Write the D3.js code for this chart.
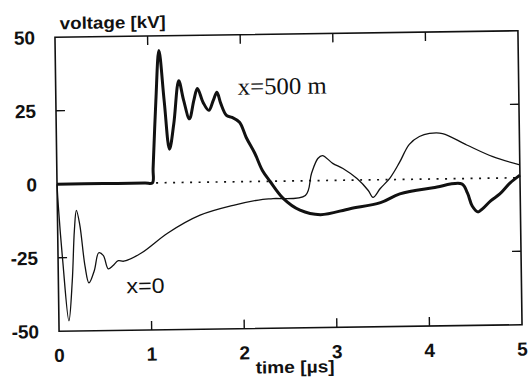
<!DOCTYPE html>
<html>
<head>
<meta charset="utf-8">
<script src="https://cdnjs.cloudflare.com/ajax/libs/d3/7.8.5/d3.min.js"></script>
<style>
  body { margin: 0; background: #fff; }
</style>
</head>
<body>
<div id="chart"></div>
<script>
    // time axis (us) and voltage (kV)
    var t500 = [0, 0.5, 0.95, 1.03, 1.04, 1.08, 1.12, 1.17, 1.22, 1.27, 1.33, 1.38, 1.44, 1.49, 1.53, 1.59, 1.65,
                1.70, 1.74, 1.78, 1.84, 1.90, 1.98, 2.05, 2.14, 2.22, 2.30, 2.44, 2.62, 2.84, 3.16,
                3.49, 3.70, 4.06, 4.37, 4.43, 4.48, 4.54, 4.59, 4.68, 4.78, 4.89, 5.0];
    var v500 = [0, 0, 0, 0, 5, 28, 45, 27.7, 11.4, 20, 34.6, 27.9, 21.6, 27.9, 31.9, 27.1, 24.4,
                27.8, 30.5, 26.7, 22.6, 21.9, 20.2, 15, 9.6, 3.7, 0, -5.9, -10, -11.6, -9.7,
                -7.8, -4.9, -3, -1.8, -4.9, -9.4, -11.4, -10.4, -7.7, -5.4, -1.8, 0.9];

    var t0 = [0, 0.01, 0.05, 0.108, 0.15, 0.18, 0.205, 0.24, 0.29, 0.33, 0.39, 0.44, 0.49, 0.54,
              0.59, 0.65, 0.71, 0.9, 1.19, 1.54, 1.9, 2.22, 2.33, 2.68, 2.75, 2.82, 2.87, 2.98,
              3.09, 3.24, 3.36, 3.41, 3.49, 3.60, 3.70, 3.81, 3.92, 4.03, 4.17, 4.43, 4.71, 5.0];
    var v0 = [0, -7, -26, -46.5, -33, -16, -9, -14, -28, -33.7, -29.5, -23.5, -24.5, -29,
              -28, -26.3, -26.5, -23.8, -17.1, -11.2, -8, -6.1, -5.9, -5, 2.5, 7.5, 8.5, 5.8,
              4, 0.5, -3.6, -6, -3, 0.7, 5.7, 11.9, 14.5, 15.5, 15.4, 11.4, 7.3, 4.4];

    var xTicks = [0, 1, 2, 3, 4, 5];
    var yTicks = [50, 25, 0, -25, -50];
    var innerTicksX = [1, 2, 3, 4];
    var innerTicksY = [25, -25];
    var zeroLine = [1.07, 5];

    var w = 528, h = 379;
    var margin = {top: 34, right: 8, bottom: 51, left: 57};
    var sans = "'Liberation Sans', Arial, sans-serif";
    var serif = "'Liberation Serif', 'Times New Roman', serif";

    var svg = d3.select("#chart")
                .append("svg")
                .attr("width", w)
                .attr("height", h);

    var x = d3.scaleLinear().domain([0, 5]).range([margin.left, w - margin.right]);
    var y = d3.scaleLinear().domain([-50, 50]).range([h - margin.bottom, margin.top]);

    // the scan is a little tilted
    var cx = (x.range()[0] + x.range()[1]) / 2;
    var cy = (y.range()[0] + y.range()[1]) / 2;
    var g = svg.append("g").attr("transform", "rotate(-0.8," + cx + "," + cy + ")");

    // zero reference (dotted)
    g.append("line")
     .attr("x1", x(zeroLine[0])).attr("x2", x(zeroLine[1]))
     .attr("y1", y(0)).attr("y2", y(0))
     .attr("stroke", "#111")
     .attr("stroke-width", 1.7)
     .attr("stroke-dasharray", "2,6.5");

    var line = d3.line()
                 .x((d) => x(d[0]))
                 .y((d) => y(d[1]))
                 .curve(d3.curveCatmullRom.alpha(0.5));

    g.append("path")
     .attr("d", line(t0.map((t, i) => [t, v0[i]])))
     .attr("fill", "none")
     .attr("stroke", "#111")
     .attr("stroke-width", 1.3);

    g.append("path")
     .attr("d", line(t500.map((t, i) => [t, v500[i]])))
     .attr("fill", "none")
     .attr("stroke", "#111")
     .attr("stroke-width", 3)
     .attr("stroke-linejoin", "round");

    // frame
    g.append("rect")
     .attr("x", x(0)).attr("y", y(50))
     .attr("width", x(5) - x(0)).attr("height", y(-50) - y(50))
     .attr("fill", "none")
     .attr("stroke", "#111")
     .attr("stroke-width", 1.6);

    // inward ticks on all four sides
    var tl = 9;
    innerTicksX.forEach((t) => {
        g.append("line").attr("x1", x(t)).attr("x2", x(t))
         .attr("y1", y(-50)).attr("y2", y(-50) - tl)
         .attr("stroke", "#111").attr("stroke-width", 1.4);
        g.append("line").attr("x1", x(t)).attr("x2", x(t))
         .attr("y1", y(50)).attr("y2", y(50) + tl)
         .attr("stroke", "#111").attr("stroke-width", 1.4);
    });
    innerTicksY.forEach((v) => {
        g.append("line").attr("x1", x(0)).attr("x2", x(0) + tl)
         .attr("y1", y(v)).attr("y2", y(v))
         .attr("stroke", "#111").attr("stroke-width", 1.4);
        g.append("line").attr("x1", x(5)).attr("x2", x(5) - tl)
         .attr("y1", y(v)).attr("y2", y(v))
         .attr("stroke", "#111").attr("stroke-width", 1.4);
    });

    // tick labels
    g.selectAll(".ylab").data(yTicks).enter().append("text")
     .attr("class", "ylab")
     .attr("x", x(0) - 20)
     .attr("y", (d) => y(d))
     .attr("dy", "0.36em")
     .attr("text-anchor", "end")
     .attr("font-family", sans)
     .attr("font-weight", "bold")
     .attr("font-size", "19px")
     .attr("fill", "#111")
     .text((d) => d);

    g.selectAll(".xlab").data(xTicks).enter().append("text")
     .attr("class", "xlab")
     .attr("x", (d) => x(d))
     .attr("y", y(-50) + 24)
     .attr("dy", "0.36em")
     .attr("text-anchor", "middle")
     .attr("font-family", sans)
     .attr("font-weight", "bold")
     .attr("font-size", "19px")
     .attr("fill", "#111")
     .text((d) => d);

    // axis titles
    g.append("text")
     .attr("x", 62).attr("y", 26)
     .attr("font-family", sans)
     .attr("font-weight", "bold")
     .attr("font-size", "17px")
     .attr("textLength", 106)
     .attr("lengthAdjust", "spacingAndGlyphs")
     .attr("fill", "#111")
     .text("voltage [kV]");

    g.append("text")
     .attr("x", 253).attr("y", 373)
     .attr("font-family", sans)
     .attr("font-weight", "bold")
     .attr("font-size", "17px")
     .attr("textLength", 79)
     .attr("lengthAdjust", "spacingAndGlyphs")
     .attr("fill", "#111")
     .text("time [\u00b5s]");

    // curve labels
    g.append("text")
     .attr("x", 239).attr("y", 94)
     .attr("font-family", serif)
     .attr("font-size", "24px")
     .attr("textLength", 89)
     .attr("lengthAdjust", "spacingAndGlyphs")
     .attr("fill", "#111")
     .text("x=500 m");

    g.append("text")
     .attr("x", 125).attr("y", 291)
     .attr("font-family", sans)
     .attr("font-size", "21px")
     .attr("textLength", 38)
     .attr("lengthAdjust", "spacingAndGlyphs")
     .attr("fill", "#111")
     .text("x=0");
</script>
</body>
</html>
